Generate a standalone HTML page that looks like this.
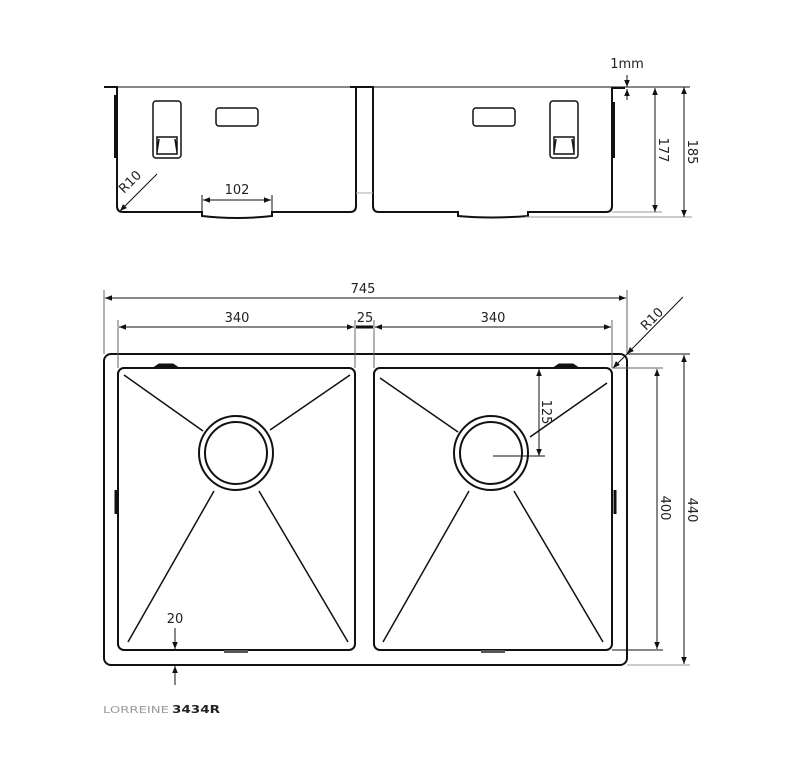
<!DOCTYPE html>
<html><head><meta charset="utf-8"><style>
html,body{margin:0;padding:0;background:#fff;}
svg{display:block;}
text{font-family:"DejaVu Sans","Liberation Sans",sans-serif;font-size:13px;fill:#222;}
</style></head><body>
<svg width="794" height="757" viewBox="0 0 794 757" xmlns="http://www.w3.org/2000/svg">
<defs>
<marker id="a" viewBox="0 0 10 10" refX="10" refY="5" markerWidth="9" markerHeight="7" orient="auto-start-reverse" markerUnits="userSpaceOnUse"><path d="M0,1 L10,5 L0,9 z" fill="#111"/></marker>
</defs>
<g fill="none" stroke="#111">
<!-- TOP VIEW -->
<line x1="104" y1="87" x2="690" y2="87" stroke-width="1"/>
<path d="M104,87 H117 V206 Q117,212 123,212 H202 V216 Q237,220 272,216 V212 H350 Q356,212 356,206 V87 H350" stroke-width="2"/>
<path d="M366,87 H373 V206 Q373,212 379,212 H458 V216 Q490,219 528,216 V212 H606 Q612,212 612,206 V88 H625" stroke-width="2"/>
<line x1="356" y1="87" x2="366" y2="87" stroke-width="2"/>
<line x1="356" y1="193" x2="373" y2="193" stroke="#aaa"/>
<line x1="115" y1="95" x2="115" y2="158" stroke-width="2"/>
<line x1="614" y1="102" x2="614" y2="158" stroke-width="2"/>
<rect x="216" y="108" width="42" height="18" rx="3" stroke-width="1.5"/>
<rect x="473" y="108" width="42" height="18" rx="3" stroke-width="1.5"/>
<rect x="153" y="101" width="28" height="57" rx="3" stroke-width="1.5"/>
<path d="M157,137 H177 V154 H157 Z M159,139 L157,152 M175,139 L177,152" stroke-width="1.5"/>
<rect x="550" y="101" width="28" height="57" rx="3" stroke-width="1.5"/>
<path d="M554,137 H574 V154 H554 Z M556,139 L554,152 M572,139 L574,152" stroke-width="1.5"/>
<line x1="203" y1="200" x2="271" y2="200" marker-start="url(#a)" marker-end="url(#a)"/>
<line x1="202" y1="195" x2="202" y2="212"/><line x1="272" y1="195" x2="272" y2="212"/>
<line x1="157" y1="174" x2="120" y2="211" marker-end="url(#a)"/>
<!-- 1mm, 177, 185 -->
<line x1="627" y1="75" x2="627" y2="87" marker-end="url(#a)"/>
<line x1="627" y1="100" x2="627" y2="89" marker-end="url(#a)"/>
<line x1="612" y1="212" x2="662" y2="212" stroke="#999"/>
<line x1="525" y1="217" x2="692" y2="217" stroke="#999"/>
<line x1="655" y1="88" x2="655" y2="212" marker-start="url(#a)" marker-end="url(#a)"/>
<line x1="684" y1="87" x2="684" y2="217" marker-start="url(#a)" marker-end="url(#a)"/>

<!-- PLAN VIEW -->
<rect x="104" y="354" width="523" height="311" rx="7" stroke-width="2"/>
<rect x="118" y="368" width="237" height="282" rx="6" stroke-width="2"/>
<rect x="374" y="368" width="238" height="282" rx="6" stroke-width="2"/>
<path d="M153,368 L159,364 H173 L179,368 Z M553,368 L559,364 H573 L579,368 Z" fill="#111" stroke-width="1"/>
<path d="M224,650 h24 v3 h-24z M481,650 h24 v3 h-24z" fill="#555" stroke="none"/>
<line x1="116" y1="490" x2="116" y2="514" stroke-width="3"/>
<line x1="615" y1="490" x2="615" y2="514" stroke-width="3"/>
<!-- drains -->
<circle cx="236" cy="453" r="37" stroke-width="2"/><circle cx="236" cy="453" r="31" stroke-width="2"/>
<circle cx="491" cy="453" r="37" stroke-width="2"/><circle cx="491" cy="453" r="31" stroke-width="2"/>
<g stroke-width="1.5">
<line x1="124" y1="375" x2="203" y2="431"/><line x1="350" y1="375" x2="270" y2="430"/>
<line x1="214" y1="491" x2="128" y2="642"/><line x1="259" y1="491" x2="348" y2="642"/>
<line x1="380" y1="378" x2="458" y2="432"/><line x1="607" y1="383" x2="530" y2="437"/>
<line x1="469" y1="491" x2="383" y2="642"/><line x1="514" y1="491" x2="603" y2="642"/>
</g>
<!-- dims -->
<line x1="104" y1="290" x2="104" y2="354" stroke="#666"/>
<line x1="627" y1="290" x2="627" y2="354" stroke="#666"/>
<line x1="105" y1="298" x2="626" y2="298" marker-start="url(#a)" marker-end="url(#a)"/>
<line x1="118" y1="320" x2="118" y2="368" stroke="#666"/>
<line x1="355" y1="320" x2="355" y2="368" stroke="#666"/>
<line x1="374" y1="320" x2="374" y2="368" stroke="#666"/>
<line x1="612" y1="320" x2="612" y2="368" stroke="#666"/>
<line x1="119" y1="327" x2="354" y2="327" marker-start="url(#a)" marker-end="url(#a)"/>
<line x1="375" y1="327" x2="611" y2="327" marker-start="url(#a)" marker-end="url(#a)"/>
<line x1="356" y1="327" x2="373" y2="327" stroke-width="3"/>
<line x1="683" y1="297" x2="627" y2="354" marker-end="url(#a)"/>
<line x1="627" y1="354" x2="613" y2="368" marker-end="url(#a)"/>
<line x1="627" y1="354" x2="690" y2="354"/>
<line x1="612" y1="368" x2="663" y2="368" stroke="#666"/>
<line x1="612" y1="650" x2="663" y2="650"/>
<line x1="627" y1="665" x2="690" y2="665" stroke="#999"/>
<line x1="657" y1="369" x2="657" y2="649" marker-start="url(#a)" marker-end="url(#a)"/>
<line x1="684" y1="355" x2="684" y2="664" marker-start="url(#a)" marker-end="url(#a)"/>
<line x1="539" y1="369" x2="539" y2="456" marker-start="url(#a)" marker-end="url(#a)"/>
<line x1="493" y1="456" x2="545" y2="456"/>
<line x1="175" y1="628" x2="175" y2="649" marker-end="url(#a)"/>
<line x1="175" y1="685" x2="175" y2="666" marker-end="url(#a)"/>
</g>
<text x="627" y="68" text-anchor="middle">1mm</text>
<text x="237" y="194" text-anchor="middle">102</text>
<text transform="translate(133,185) rotate(-45)" text-anchor="middle">R10</text>
<text transform="translate(659,150) rotate(90)" text-anchor="middle">177</text>
<text transform="translate(688,152) rotate(90)" text-anchor="middle">185</text>
<text x="363" y="293" text-anchor="middle">745</text>
<text x="237" y="322" text-anchor="middle">340</text>
<text x="365" y="322" text-anchor="middle">25</text>
<text x="493" y="322" text-anchor="middle">340</text>
<text transform="translate(655,322) rotate(-45)" text-anchor="middle">R10</text>
<text transform="translate(542,412) rotate(90)" text-anchor="middle">125</text>
<text transform="translate(661,508) rotate(90)" text-anchor="middle">400</text>
<text transform="translate(688,510) rotate(90)" text-anchor="middle">440</text>
<text x="175" y="623" text-anchor="middle">20</text>
<text x="103" y="713" textLength="66" lengthAdjust="spacingAndGlyphs" style="font-size:10px;fill:#999;">LORREINE</text>
<text x="172" y="713" textLength="48" lengthAdjust="spacingAndGlyphs" style="font-size:10.5px;font-weight:bold;fill:#222">3434R</text>
</svg>
</body></html>
